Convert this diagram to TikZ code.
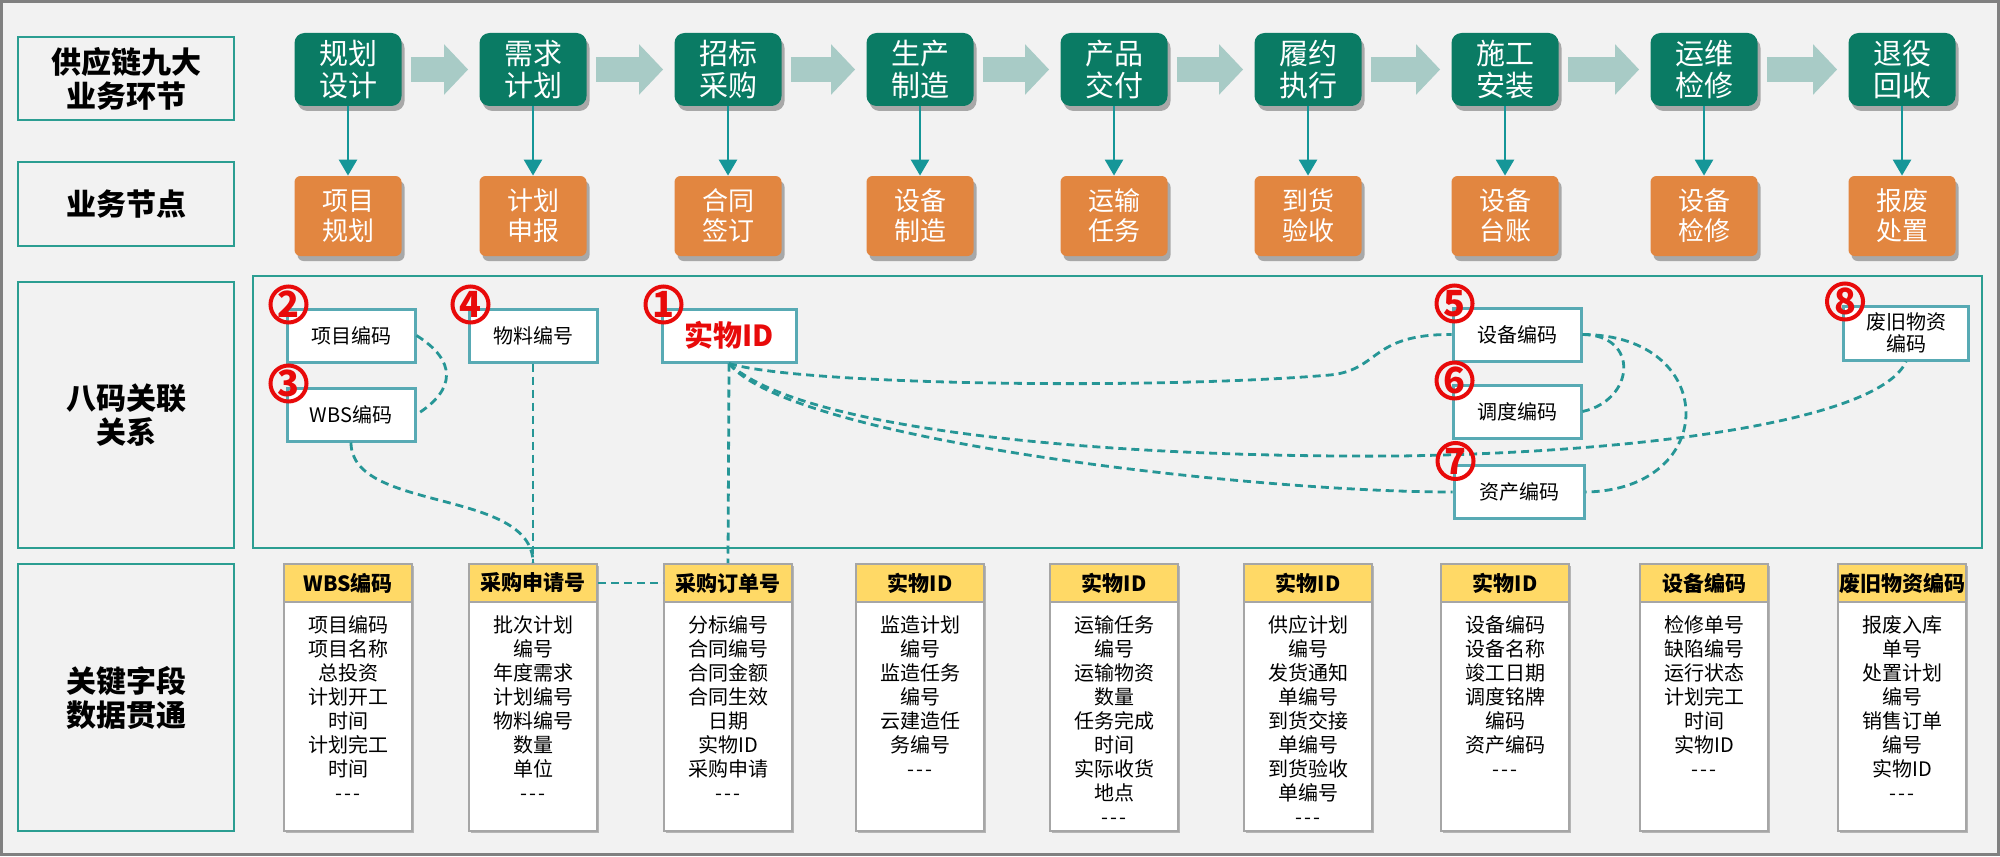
\documentclass[tikz,border=0pt]{standalone}
\usepackage{fontspec}
\setmainfont{Noto Sans CJK SC}
\usetikzlibrary{arrows.meta,shadows,calc}
\definecolor{cbg}{RGB}{242,242,242}
\definecolor{cframe}{RGB}{128,128,128}
\definecolor{cteal}{RGB}{44,158,146}
\definecolor{cgreen}{RGB}{10,123,100}
\definecolor{corange}{RGB}{226,134,64}
\definecolor{clight}{RGB}{168,203,198}
\definecolor{carrow}{RGB}{21,150,152}
\definecolor{ccode}{RGB}{88,170,180}
\definecolor{cdash}{RGB}{38,150,150}
\definecolor{cred}{RGB}{232,10,10}
\definecolor{cyellow}{RGB}{255,217,102}
\definecolor{cgray}{RGB}{166,166,166}
\newcommand{\ddd}{-\kern1pt-\kern1pt-}
\begin{document}
\begin{tikzpicture}[x=0.5pt,y=-0.5pt,
  lab/.style={draw=cteal, line width=1.2pt, minimum width=108pt, inner sep=0pt, align=center,
    font=\bfseries\fontsize{15}{17}\selectfont},
  gbox/.style={rectangle, rounded corners=5pt, fill=cgreen, text=white, minimum width=53.5pt,
    minimum height=36.5pt, inner sep=0pt, align=center, font=\fontsize{14.5}{16}\selectfont,
    drop shadow={shadow xshift=1.5pt, shadow yshift=-2.5pt, opacity=.3, fill=black}},
  obox/.style={rectangle, rounded corners=3pt, fill=corange, text=white, minimum width=53.5pt,
    minimum height=40pt, inner sep=0pt, align=center, font=\fontsize{13}{15}\selectfont,
    drop shadow={shadow xshift=1.5pt, shadow yshift=-2.5pt, opacity=.3, fill=black}},
  cbox/.style={draw=ccode, line width=1.5pt, fill=white, minimum width=64pt, minimum height=26.5pt,
    inner sep=0pt, align=center, font=\fontsize{10}{11}\selectfont},
  circ/.style={circle, draw=cred, line width=2pt, minimum size=18pt, inner sep=0pt, text=cred,
    font=\bfseries\fontsize{18}{18}\selectfont},
  colbody/.style={draw=cgray, line width=1pt, fill=white, minimum width=64pt, minimum height=133.5pt,
    inner sep=0pt, drop shadow={shadow xshift=1pt, shadow yshift=-1pt, opacity=.25, fill=black}},
  colhead/.style={draw=cgray, line width=1pt, fill=cyellow, minimum width=64pt, minimum height=19pt,
    inner sep=0pt, font=\bfseries\fontsize{10.5}{12}\selectfont},
  coltext/.style={inner sep=0pt, align=center, font=\fontsize{10}{12}\selectfont},
  dl/.style={draw=cdash, line width=1.4pt, dash pattern=on 4pt off 2.5pt},
  varrow/.style={draw=carrow, line width=1.3pt, -{Triangle[length=8pt,width=9pt]}},
  barrow/.style={draw=clight, line width=12.5pt, -{Triangle[length=12pt,width=24.5pt]},
    shorten <=4.5pt, shorten >=5.5pt}
]
\useasboundingbox (0,0) rectangle (2000,856);
\fill[cbg] (0,0) rectangle (2000,856);
\draw[cframe, line width=1.5pt] (1.5,1.5) rectangle (1998.5,854.5);

% row labels
\node[lab, minimum height=41.5pt] (L1) at (126,78.5) {供应链九大\\业务环节};
\node[lab, minimum height=42pt] (L2) at (126,204) {业务节点};
\node[lab, minimum height=133pt] (L3) at (126,415) {八码关联\\关系};
\node[lab, minimum height=133.5pt] (L4) at (126,697.5) {关键字段\\数据贯通};

% area of eight codes
\node[draw=cteal, line width=1.2pt, minimum width=864.5pt, minimum height=136pt, inner sep=0pt] (area) at (1117.5,412) {};

% stages and business nodes
\foreach \i/\x/\gtext/\otext in {
  1/348/{规划\\设计}/{项目\\规划},
  2/533/{需求\\计划}/{计划\\申报},
  3/728/{招标\\采购}/{合同\\签订},
  4/920/{生产\\制造}/{设备\\制造},
  5/1114/{产品\\交付}/{运输\\任务},
  6/1308/{履约\\执行}/{到货\\验收},
  7/1505/{施工\\安装}/{设备\\台账},
  8/1704/{运维\\检修}/{设备\\检修},
  9/1902/{退役\\回收}/{报废\\处置}}{
  \node[gbox] (g\i) at (\x,69.5) {\gtext};
  \node[obox] (o\i) at (\x,216) {\otext};
}
\foreach \i in {1,...,9}{
  \draw[varrow] (g\i.south) -- (o\i.north);
}
\foreach \i/\j in {1/2,2/3,3/4,4/5,5/6,6/7,7/8,8/9}{
  \draw[barrow] (g\i.east) -- (g\j.west);
}

% data columns
\foreach \i/\x/\htext/\btext in {
  1/348/{WBS编码}/{项目编码\\项目名称\\总投资\\计划开工\\时间\\计划完工\\时间\\\ddd},
  2/533/{采购申请号}/{批次计划\\编号\\年度需求\\计划编号\\物料编号\\数量\\单位\\\ddd},
  3/728/{采购订单号}/{分标编号\\合同编号\\合同金额\\合同生效\\日期\\实物ID\\采购申请\\\ddd},
  4/920/{实物ID}/{监造计划\\编号\\监造任务\\编号\\云建造任\\务编号\\\ddd},
  5/1114/{实物ID}/{运输任务\\编号\\运输物资\\数量\\任务完成\\时间\\实际收货\\地点\\\ddd},
  6/1308/{实物ID}/{供应计划\\编号\\发货通知\\单编号\\到货交接\\单编号\\到货验收\\单编号\\\ddd},
  7/1505/{实物ID}/{设备编码\\设备名称\\竣工日期\\调度铭牌\\编码\\资产编码\\\ddd},
  8/1704/{设备编码}/{检修单号\\缺陷编号\\运行状态\\计划完工\\时间\\实物ID\\\ddd},
  9/1902/{废旧物资编码}/{报废入库\\单号\\处置计划\\编号\\销售订单\\编号\\实物ID\\\ddd}}{
  \node[colbody] (k\i) at (\x,697.5) {};
  \node[colhead, anchor=north] (h\i) at (k\i.north) {\htext};
  \node[coltext, anchor=north] (t\i) at (\x,615) {\btext};
}

% code boxes
\node[cbox] (c2) at (351,335.5) {项目编码};
\node[cbox] (c3) at (351,414.5) {WBS编码};
\node[cbox] (c4) at (533,335.5) {物料编号};
\node[cbox, minimum width=67pt, text=cred, font=\bfseries\fontsize{14.5}{16}\selectfont] (c1) at (729,335.5) {实物ID};
\node[cbox] (c5) at (1517,334.5) {设备编码};
\node[cbox] (c6) at (1517,411.5) {调度编码};
\node[cbox, minimum width=65pt] (c7) at (1519,492) {资产编码};
\node[cbox, minimum width=62.5pt, minimum height=27pt] (c8) at (1906,333) {废旧物资\\编码};

% dashed relations
\draw[dl] (c2.east) .. controls +(40,25) and +(40,-25) .. (c3.east);
\draw[dl] (c3.south) .. controls +(0,70) and +(0,-75) .. (k2.north);
\draw[dl] (c4.south) -- (k2.north);
\draw[dl] (c1.south) -- (k3.north);
\draw[dl] (h2.east) -- (h3.west);
\draw[dl] (c1.south) .. controls (800,385) and (1150,390) .. (1330,375)
                     .. controls (1380,370) and (1370,334) .. (c5.west);
\draw[dl] (c1.south) .. controls (800,430) and (1100,458) .. (1400,456)
                     .. controls (1650,452) and (1880,420) .. (c8.south);
\draw[dl] (c1.south) .. controls (790,440) and (1250,492) .. (c7.west);
\draw[dl] (c5.east) .. controls (1640,335) and (1635,400) .. (c6.east);
\draw[dl] (c5.east) .. controls (1720,335) and (1720,490) .. (c7.east);

% circled numbers
\node[circ] (n1) at ($(c1.north west)+(3,-3)$) {1};
\node[circ] (n2) at ($(c2.north west)+(3,-3)$) {2};
\node[circ] (n3) at ($(c3.north west)+(3,-3)$) {3};
\node[circ] (n4) at ($(c4.north west)+(3,-3)$) {4};
\node[circ] (n5) at ($(c5.north west)+(3,-3)$) {5};
\node[circ] (n6) at ($(c6.north west)+(3,-3)$) {6};
\node[circ] (n7) at ($(c7.north west)+(3,-3)$) {7};
\node[circ] (n8) at ($(c8.north west)+(3,-3)$) {8};
\end{tikzpicture}
\end{document}
